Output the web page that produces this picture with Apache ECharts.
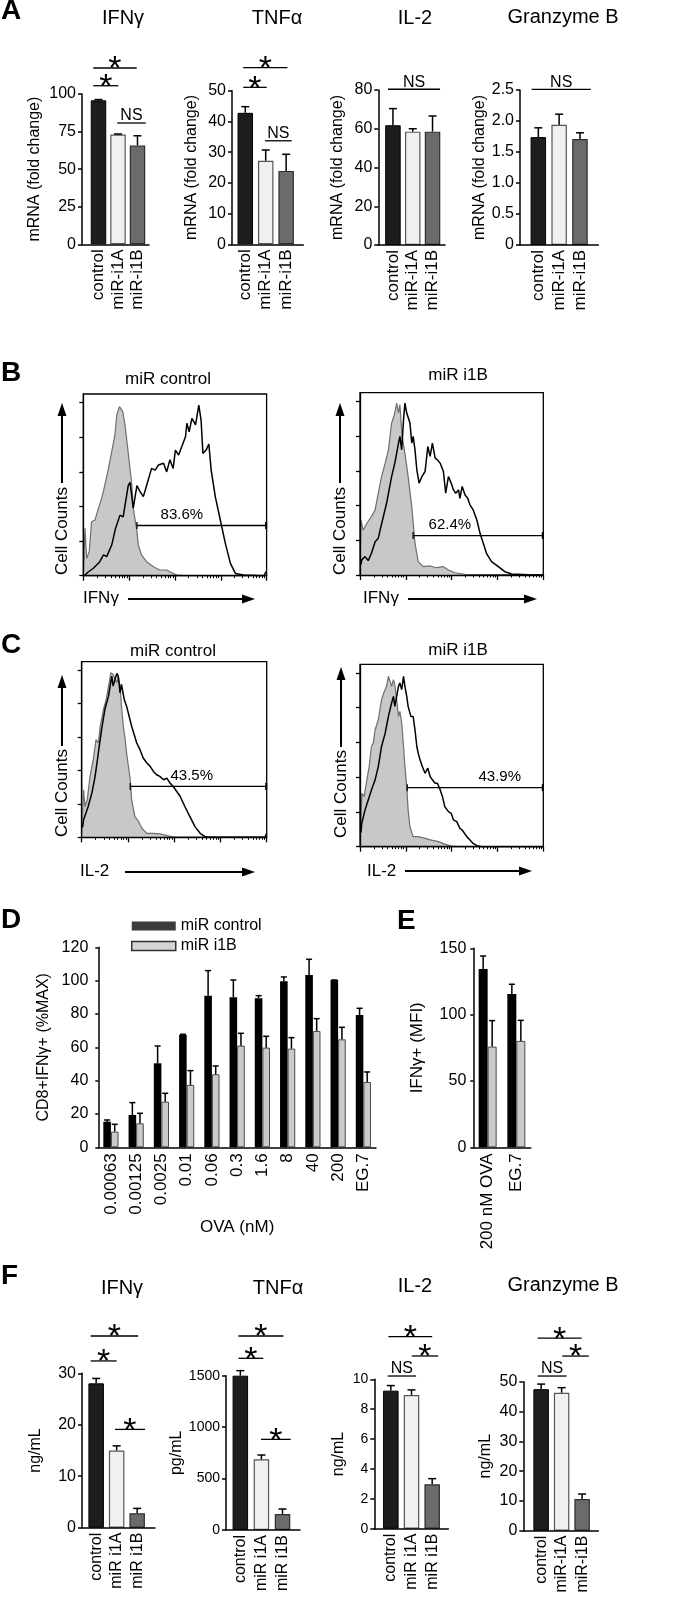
<!DOCTYPE html>
<html><head><meta charset="utf-8">
<script src="https://cdn.jsdelivr.net/npm/echarts@6/dist/echarts.min.js"></script>
<style>html,body{margin:0;padding:0;background:#fff}#c{width:689px;height:1598px}</style>
</head><body><div id="c"></div>
<script>
// ---------------- DATA ----------------
const catsA = ['control', 'miR-i1A', 'miR-i1B'];
const catsF = ['control', 'miR i1A', 'miR i1B'];
const catsFGzm = ['control', 'miR-i1A', 'miR-i1B'];

// Panel A (mRNA fold change): means and upper error
const A_IFNg = [95.8, 73.1, 65.8];   const A_IFNg_err = [0.5, 0.3, 6.4];
const A_TNFa = [42.8, 27.2, 23.9];   const A_TNFa_err = [2.0, 3.5, 5.4];
const A_IL2  = [61.8, 58.5, 58.5];   const A_IL2_err  = [8.6, 1.5, 8.1];
const A_GzmB = [1.74, 1.94, 1.71];   const A_GzmB_err = [0.15, 0.17, 0.10];
const ticksA_IFNg = [0, 25, 50, 75, 100];
const ticksA_TNFa = [0, 10, 20, 30, 40, 50];
const ticksA_IL2  = [0, 20, 40, 60, 80];
const ticksA_GzmB = [0, 0.5, 1.0, 1.5, 2.0, 2.5];
// significance brackets: [fromX, toX, y, label]
const sigA_IFNg = [[-0.27, 1.96, 117.3, '*'], [-0.27, 1.02, 105.5, '*'], [0.96, 2.42, 80.7, 'NS']];
const sigA_TNFa = [[-0.10, 2.06, 57.5, '*'], [-0.10, 1.05, 51.1, '*'], [0.97, 2.27, 33.7, 'NS']];
const sigA_IL2  = [[-0.25, 2.38, 80.4, 'NS']];
const sigA_GzmB = [[-0.32, 2.52, 2.51, 'NS']];

// Panel F (secreted protein)
const F_IFNg = [28.05, 15.0, 2.8];   const F_IFNg_err = [0.95, 0.9, 0.95];
const F_TNFa = [1500, 687, 155];     const F_TNFa_err = [49, 42, 49];
const F_IL2  = [9.24, 8.95, 2.97];   const F_IL2_err  = [0.34, 0.34, 0.38];
const F_GzmB = [47.5, 46.3, 10.6];   const F_GzmB_err = [1.7, 1.7, 1.7];
const ticksF_IFNg = [0, 10, 20, 30];
const ticksF_TNFa = [0, 500, 1000, 1500];
const ticksF_IL2  = [0, 2, 4, 6, 8, 10];
const ticksF_GzmB = [0, 10, 20, 30, 40, 50];
const sigF_IFNg = [[-0.27, 2.05, 37.25, '*'], [-0.27, 1.0, 32.4, '*'], [0.92, 2.38, 19.1, '*']];
const sigF_TNFa = [[-0.09, 2.04, 1886, '*'], [-0.09, 1.09, 1669, '*'], [0.98, 2.39, 881, '*']];
const sigF_IL2  = [[-0.12, 2.0, 12.85, '*'], [1.01, 2.29, 11.56, '*'], [-0.15, 1.22, 10.22, 'NS']];
const sigF_GzmB = [[-0.17, 1.98, 64.6, '*'], [1.03, 2.33, 58.6, '*'], [-0.17, 1.24, 51.9, 'NS']];

// Panel D
const catsD = ['0.00063', '0.00125', '0.0025', '0.01', '0.06', '0.3', '1.6', '8', '40', '200', 'EG.7'];
const D_ctrl     = [15.4, 19.4, 50.4, 67.4, 91.0, 90.0, 89.4, 99.6, 103.4, 100.4, 79.4];
const D_ctrl_err = [1.0, 7.4, 10.4, 0.4, 15.0, 10.4, 1.6, 2.6, 9.4, 0, 4.0];
const D_i1B      = [9.4, 14.4, 27.4, 37.4, 43.8, 61.0, 59.8, 59.2, 69.8, 64.8, 39.2];
const D_i1B_err  = [4.4, 6.0, 5.0, 8.6, 5.0, 7.4, 6.8, 6.6, 7.4, 7.2, 6.0];
const ticksD = [0, 20, 40, 60, 80, 100, 120];

// Panel E
const catsE = ['200 nM OVA', 'EG.7'];
const E_ctrl = [134.4, 115.6];  const E_ctrl_err = [9.8, 7.3];
const E_i1B  = [75.9, 80.2];    const E_i1B_err  = [19.6, 15.5];
const ticksE = [0, 50, 100, 150];

const seriesNames = ['miR control', 'miR i1B'];

// Panels B/C flow histograms: [log decade, % of max]
const countTicks = [0, 20, 40, 60, 80, 100];
const decadeTicks = [0, 1, 2, 3, 4];
const minorTicks = [];
for (let d = 0; d < 4; d++) for (let k = 2; k <= 9; k++) minorTicks.push(d + Math.log10(k));

const B_ctrl_iso = [[0,0],[0.03,0],[0.037,27.4],[0.073,10],[0.13,13.9],[0.18,31.2],[0.255,32.2],[0.33,38.9],[0.40,44.7],[0.47,52.4],[0.55,62],[0.62,71.7],[0.69,81.3],[0.73,92.9],[0.79,97.7],[0.82,98.7],[0.86,94.8],[0.91,87.1],[0.96,75.6],[1.01,64],[1.06,52.4],[1.09,39],[1.17,25.5],[1.20,17.8],[1.27,12],[1.38,8.1],[1.53,5.2],[1.67,3.3],[1.82,3.3],[1.89,2.3],[2.04,0.4],[2.2,0],[4,0]];
const B_ctrl_ifng = [[0.02,0],[0.10,2],[0.22,4.3],[0.36,8.1],[0.44,12],[0.51,11],[0.62,17.7],[0.70,27],[0.80,35],[0.87,34],[0.98,52],[1.02,54],[1.09,39],[1.17,52],[1.24,48.5],[1.31,45.7],[1.38,52],[1.49,62],[1.57,61],[1.64,64],[1.75,65],[1.82,60],[1.89,67],[1.96,62],[2.01,72.6],[2.08,69.7],[2.15,74.6],[2.23,80.3],[2.26,88.1],[2.31,83.2],[2.37,90.9],[2.45,87.1],[2.52,98.6],[2.57,90.0],[2.61,70.7],[2.68,72.6],[2.74,76.1],[2.79,61.1],[2.88,45.7],[2.99,32.2],[3.10,18.7],[3.21,7.1],[3.32,1.3],[3.50,0.4],[3.94,0],[3.99,2.3]];
const B_i1B_iso = [[0,0],[0.015,0],[0.02,31.7],[0.07,25.8],[0.15,29.8],[0.25,33.7],[0.33,37.5],[0.40,47.1],[0.47,56.7],[0.55,64.4],[0.62,72.1],[0.69,87.5],[0.75,92.3],[0.80,99.0],[0.84,93.3],[0.87,98.1],[0.92,79.8],[0.98,70.2],[1.05,56.7],[1.13,39.4],[1.20,18.3],[1.27,7.7],[1.38,4.8],[1.53,5.2],[1.67,4.2],[1.82,4.8],[1.93,2.9],[2.07,1.3],[2.29,0.4],[2.44,0],[4,0]];
const B_i1B_ifng = [[0.02,6],[0.04,8.7],[0.11,10.6],[0.18,8.3],[0.25,12.5],[0.33,19.2],[0.40,21.2],[0.44,26.0],[0.51,33.7],[0.58,41.3],[0.69,56.7],[0.76,64.4],[0.84,76.0],[0.87,79.8],[0.91,72.1],[0.95,89.4],[0.98,99.0],[1.02,93.3],[1.09,87.5],[1.13,76.0],[1.16,79.8],[1.20,72.1],[1.24,60.6],[1.29,52.9],[1.35,56.7],[1.42,59.6],[1.48,74.0],[1.53,68.3],[1.58,76.0],[1.64,67.3],[1.69,66.3],[1.75,64.4],[1.82,59.6],[1.87,47.1],[1.93,56.7],[1.99,52.9],[2.04,49.0],[2.09,47.1],[2.15,49.0],[2.18,44.2],[2.23,51.0],[2.29,46.2],[2.35,44.2],[2.40,40.4],[2.47,37.5],[2.55,31.7],[2.62,24.0],[2.69,18.3],[2.76,12.5],[2.87,7.7],[3.02,4.8],[3.16,1.9],[3.31,0.6],[3.67,0.2],[4.0,0]];
const C_ctrl_iso = [[0,0],[0.03,0],[0.04,28.4],[0.07,18.4],[0.12,22.4],[0.18,36.4],[0.25,46.4],[0.31,58.4],[0.36,56.4],[0.40,66.4],[0.47,76.4],[0.53,82.4],[0.58,90.4],[0.63,98.4],[0.68,97.4],[0.72,98.4],[0.76,92.4],[0.79,96.4],[0.83,90.4],[0.86,78.4],[0.90,66.4],[0.94,58.4],[0.97,50.4],[1.05,34.4],[1.08,22.4],[1.15,12.4],[1.23,9.4],[1.30,5.4],[1.35,4.0],[1.41,2.4],[1.55,2.4],[1.69,2.0],[1.84,1.0],[2.02,0],[4,0]];
const C_ctrl_il2 = [[0.02,6],[0.04,10.4],[0.09,14.4],[0.14,18.4],[0.22,26.4],[0.29,36.4],[0.36,50.4],[0.43,64.4],[0.50,76.4],[0.58,84.4],[0.65,96.4],[0.68,90.4],[0.72,94.4],[0.76,98.0],[0.79,96.4],[0.83,86.4],[0.86,91.4],[0.92,82.4],[0.97,78.4],[1.08,66.4],[1.19,56.4],[1.26,52.4],[1.33,47.4],[1.41,44.4],[1.48,42.4],[1.55,39.4],[1.62,37.4],[1.69,36.4],[1.77,34.4],[1.84,35.4],[1.91,32.4],[1.98,30.4],[2.13,24.4],[2.23,18.4],[2.34,12.4],[2.45,6.4],[2.56,2.4],[2.67,0.4],[2.77,0],[3.96,0],[4.0,2.4]];
const C_i1B_iso = [[0,0],[0.03,0],[0.04,30.8],[0.09,28.8],[0.15,38.5],[0.20,46.2],[0.25,57.7],[0.29,59.6],[0.33,67.3],[0.40,73.1],[0.47,84.6],[0.53,89.4],[0.58,92.3],[0.62,98.1],[0.65,97.1],[0.69,92.3],[0.73,96.2],[0.76,93.3],[0.80,84.6],[0.84,75.0],[0.87,77.9],[0.91,71.2],[0.95,57.7],[0.98,46.2],[1.02,34.6],[1.05,21.2],[1.09,11.5],[1.16,5.8],[1.27,5.8],[1.42,4.8],[1.56,3.8],[1.71,2.9],[1.85,1.5],[2.0,0.4],[2.15,0],[4,0]];
const C_i1B_il2 = [[0.02,8],[0.04,13.5],[0.11,21.2],[0.18,26.9],[0.25,32.7],[0.33,38.5],[0.40,46.2],[0.47,57.7],[0.55,65.4],[0.62,75.0],[0.69,82.7],[0.73,86.5],[0.76,80.8],[0.80,86.5],[0.84,92.3],[0.87,94.2],[0.91,90.4],[0.95,98.1],[0.98,92.3],[1.02,86.5],[1.05,80.8],[1.11,75.0],[1.16,75.0],[1.20,67.3],[1.24,57.7],[1.27,53.8],[1.31,50.0],[1.36,46.2],[1.42,42.3],[1.48,45.2],[1.53,40.4],[1.58,38.5],[1.64,36.5],[1.69,36.5],[1.75,32.7],[1.80,28.8],[1.85,23.1],[1.93,20.2],[1.99,19.2],[2.04,15.4],[2.11,14.4],[2.18,10.6],[2.23,9.6],[2.33,5.8],[2.40,3.8],[2.47,1.9],[2.55,0.6],[2.65,0],[4.0,0]];
// gates: [from, to, y, label, labelX]
const gateB_ctrl = [1.17, 4.0, 29, '83.6%', 2.15];
const gateB_i1B  = [1.16, 4.0, 22.7, '62.4%', 1.96];
const gateC_ctrl = [1.05, 4.0, 30.4, '43.5%', 2.38];
const gateC_i1B  = [1.03, 4.0, 34.0, '43.9%', 3.05];

// ---------------- BUILD ----------------
const FONT = '"Liberation Sans", Arial, Helvetica, sans-serif';
const grids = [], xAxes = [], yAxes = [], series = [], graphic = [];
const barStyles = [
  {color: '#1d1d1d', borderColor: '#000', borderWidth: 1},
  {color: '#f0f0f0', borderColor: '#555', borderWidth: 1.2},
  {color: '#6b6b6b', borderColor: '#2e2e2e', borderWidth: 1.2}
];
const AX = {color: '#000', width: 1.5};

function errSeries(xi, yi, data, offset, capW) {
  return {type: 'custom', xAxisIndex: xi, yAxisIndex: yi, clip: false, z: 4, silent: true, data,
    renderItem: (p, api) => {
      const x = api.value(0), y = api.value(1), e = api.value(2);
      const a = api.coord([x, y]), b = api.coord([x, y + e]);
      const cx = a[0] + offset;
      return {type: 'group', children: [
        {type: 'line', shape: {x1: cx, y1: a[1], x2: cx, y2: b[1]}, style: {stroke: '#000', lineWidth: 1.5}},
        {type: 'line', shape: {x1: cx - capW / 2, y1: b[1], x2: cx + capW / 2, y2: b[1]}, style: {stroke: '#000', lineWidth: 1.5}}
      ]};
    }};
}
function sigSeries(xi, yi, sig) {
  return {type: 'custom', xAxisIndex: xi, yAxisIndex: yi, clip: false, z: 4, silent: true,
    data: sig.map(s => [s[0], s[2], s[1]]),
    renderItem: (p, api) => {
      const s = sig[p.dataIndex];
      const a = api.coord([s[0], s[2]]), b = api.coord([s[1], s[2]]);
      const star = s[3] === '*';
      return {type: 'group', children: [
        {type: 'line', shape: {x1: a[0], y1: a[1], x2: b[0], y2: b[1]}, style: {stroke: '#000', lineWidth: 1.3}},
        {type: 'text', x: (a[0] + b[0]) / 2, y: star ? a[1] + 2 : a[1] - 7,
          style: {text: s[3], fontSize: star ? 34 : 16, fontFamily: FONT, fill: '#000', align: 'center', verticalAlign: 'middle'}}
      ]};
    }};
}
function barPanel(o) {
  const gi = grids.length, xi = xAxes.length, yi = yAxes.length;
  grids.push({left: o.left, top: o.top, width: o.width, height: o.height, containLabel: false, outerBoundsMode: 'none'});
  xAxes.push({type: 'value', gridIndex: gi, min: o.xMin, max: o.xMax, z: 10, position: 'bottom',
    axisLine: {show: true, onZero: false, lineStyle: AX}, axisTick: {show: false}, splitLine: {show: false},
    axisLabel: {customValues: o.cats.map((c, i) => i), formatter: v => o.cats[Math.round(v)], rotate: 90, margin: 5,
      fontSize: o.catFont || 16, color: '#000', fontFamily: FONT}});
  yAxes.push({type: 'value', gridIndex: gi, min: 0, max: o.ticks[o.ticks.length - 1], z: 10,
    name: o.yName, nameLocation: 'middle', nameGap: o.nameGap, nameTextStyle: {fontSize: 16, color: '#000', fontFamily: FONT},
    axisLine: {show: true, onZero: false, lineStyle: AX},
    axisTick: {show: true, customValues: o.ticks, length: 4, lineStyle: AX},
    axisLabel: {customValues: o.ticks, formatter: o.fmt || (v => String(v)), margin: 6, fontSize: o.tickFont || 16, color: '#000', fontFamily: FONT},
    splitLine: {show: false}});
  series.push({type: 'bar', xAxisIndex: xi, yAxisIndex: yi, barWidth: o.barWidth || 15.5, z: 2, silent: true,
    data: o.vals.map((v, i) => ({value: [i, v], itemStyle: barStyles[i]}))});
  series.push(errSeries(xi, yi, o.vals.map((v, i) => [i, v, o.errs[i]]), 0, 8));
  series.push(sigSeries(xi, yi, o.sig));
}
function groupPanel(o) {
  const gi = grids.length, xi = xAxes.length, yi = yAxes.length;
  grids.push({left: o.left, top: o.top, width: o.width, height: o.height, containLabel: false, outerBoundsMode: 'none'});
  xAxes.push({type: 'category', gridIndex: gi, data: o.cats, z: 10, position: 'bottom',
    name: o.xName || '', nameLocation: 'middle', nameGap: o.xNameGap || 0, nameTextStyle: {fontSize: 17, color: '#000', fontFamily: FONT},
    axisLine: {show: true, onZero: false, lineStyle: AX}, axisTick: {show: false},
    axisLabel: {interval: 0, rotate: 90, margin: 6, fontSize: 17, color: '#000', fontFamily: FONT}});
  yAxes.push({type: 'value', gridIndex: gi, min: 0, max: o.ticks[o.ticks.length - 1], z: 10,
    name: o.yName, nameLocation: 'middle', nameGap: o.nameGap, nameTextStyle: {fontSize: o.nameFont || 16, color: '#000', fontFamily: FONT},
    axisLine: {show: true, onZero: false, lineStyle: AX},
    axisTick: {show: true, customValues: o.ticks, length: 3, lineStyle: AX},
    axisLabel: {customValues: o.ticks, margin: o.labelMargin || 8, fontSize: 16, color: '#000', fontFamily: FONT},
    splitLine: {show: false}});
  series.push({type: 'bar', name: seriesNames[0], xAxisIndex: xi, yAxisIndex: yi, barWidth: o.bw, barGap: '0%', z: 2, silent: true,
    itemStyle: {color: '#000'}, data: o.a});
  series.push({type: 'bar', name: seriesNames[1], xAxisIndex: xi, yAxisIndex: yi, barWidth: o.bw, barGap: '0%', z: 2, silent: true,
    itemStyle: {color: '#cbcbcb', borderColor: '#4a4a4a', borderWidth: 1}, data: o.b});
  series.push(errSeries(xi, yi, o.a.map((v, i) => [i, v, o.aErr[i]]), -o.bw / 2, 6));
  series.push(errSeries(xi, yi, o.b.map((v, i) => [i, v, o.bErr[i]]), o.bw / 2, 6));
}
function gateSeries(xi, yi, g) {
  return {type: 'custom', xAxisIndex: xi, yAxisIndex: yi, clip: false, z: 5, silent: true, data: [[g[0], g[2]]],
    renderItem: (p, api) => {
      const a = api.coord([g[0], g[2]]), b = api.coord([g[1], g[2]]), t = api.coord([g[4], g[2]]);
      return {type: 'group', children: [
        {type: 'line', shape: {x1: a[0], y1: a[1], x2: b[0], y2: b[1]}, style: {stroke: '#000', lineWidth: 1.3}},
        {type: 'line', shape: {x1: a[0], y1: a[1] - 3.5, x2: a[0], y2: a[1] + 3.5}, style: {stroke: '#000', lineWidth: 1.3}},
        {type: 'line', shape: {x1: b[0] - 0.5, y1: b[1] - 3.5, x2: b[0] - 0.5, y2: b[1] + 3.5}, style: {stroke: '#000', lineWidth: 2}},
        {type: 'text', x: t[0], y: t[1] - 11, style: {text: g[3], fontSize: 15, fontFamily: FONT, fill: '#000', align: 'center', verticalAlign: 'middle'}}
      ]};
    }};
}
function histPanel(o) {
  const gi = grids.length, xi = xAxes.length, yi = yAxes.length;
  grids.push({left: o.left, top: o.top, width: o.width, height: o.height, show: true, borderColor: '#000', borderWidth: 1.3,
    backgroundColor: 'rgba(0,0,0,0)', containLabel: false, outerBoundsMode: 'none'});
  xAxes.push({type: 'value', gridIndex: gi, min: 0, max: 4, z: 10, position: 'bottom',
    axisLine: {show: true, onZero: false, lineStyle: {color: '#000', width: 1.3}},
    axisTick: {show: true, customValues: decadeTicks, length: 5, lineStyle: {color: '#000', width: 1.3}},
    axisLabel: {show: false}, splitLine: {show: false}});
  xAxes.push({type: 'value', gridIndex: gi, min: 0, max: 4, z: 10, position: 'bottom',
    axisLine: {show: false}, axisTick: {show: true, customValues: minorTicks, length: 2.5, lineStyle: {color: '#000', width: 1}},
    axisLabel: {show: false}, splitLine: {show: false}});
  yAxes.push({type: 'value', gridIndex: gi, min: 0, max: 105, z: 10,
    axisLine: {show: true, onZero: false, lineStyle: {color: '#000', width: 1.3}},
    axisTick: {show: true, customValues: countTicks, length: 4, lineStyle: {color: '#000', width: 1.3}},
    axisLabel: {show: false}, splitLine: {show: false}});
  series.push({type: 'line', xAxisIndex: xi, yAxisIndex: yi, data: o.iso, symbol: 'none', silent: true, z: 2,
    lineStyle: {color: '#6e6e6e', width: 1.2}, areaStyle: {color: '#c8c8c8', opacity: 1}});
  series.push({type: 'line', xAxisIndex: xi, yAxisIndex: yi, data: o.stain, symbol: 'none', silent: true, z: 3,
    lineStyle: {color: '#000', width: 1.5}});
  series.push(gateSeries(xi, yi, o.gate));
}

// Panel A
barPanel({left: 82, top: 94, width: 67, height: 150.3, xMin: -0.846, xMax: 2.59, ticks: ticksA_IFNg, cats: catsA, catFont: 17,
  vals: A_IFNg, errs: A_IFNg_err, sig: sigA_IFNg, yName: 'mRNA (fold change)', nameGap: 39});
barPanel({left: 232, top: 90.7, width: 71.3, height: 153.6, xMin: -0.65, xMax: 2.84, ticks: ticksA_TNFa, cats: catsA, catFont: 17,
  vals: A_TNFa, errs: A_TNFa_err, sig: sigA_TNFa, yName: 'mRNA (fold change)', nameGap: 32});
barPanel({left: 378.3, top: 90, width: 66.7, height: 155, xMin: -0.74, xMax: 2.63, ticks: ticksA_IL2, cats: catsA, catFont: 17,
  vals: A_IL2, errs: A_IL2_err, sig: sigA_IL2, yName: 'mRNA (fold change)', nameGap: 33});
barPanel({left: 520, top: 90, width: 78.3, height: 155, xMin: -0.88, xMax: 2.88, ticks: ticksA_GzmB, cats: catsA, catFont: 17,
  vals: A_GzmB, errs: A_GzmB_err, sig: sigA_GzmB, yName: 'mRNA (fold change)', nameGap: 31,
  fmt: v => v === 0 ? '0' : v.toFixed(1)});

// Panels B, C
histPanel({left: 83.3, top: 394, width: 183.3, height: 181.7, iso: B_ctrl_iso, stain: B_ctrl_ifng, gate: gateB_ctrl});
histPanel({left: 360, top: 392.7, width: 183.3, height: 182.3, iso: B_i1B_iso, stain: B_i1B_ifng, gate: gateB_i1B});
histPanel({left: 81.7, top: 661.7, width: 185, height: 175.6, iso: C_ctrl_iso, stain: C_ctrl_il2, gate: gateC_ctrl});
histPanel({left: 360, top: 664.3, width: 183.3, height: 182.4, iso: C_i1B_iso, stain: C_i1B_il2, gate: gateC_i1B});

// Panel D, E
groupPanel({left: 98.3, top: 947.3, width: 277.7, height: 200, cats: catsD, ticks: ticksD, a: D_ctrl, aErr: D_ctrl_err,
  b: D_i1B, bErr: D_i1B_err, bw: 7.6, yName: 'CD8+IFNγ+ (%MAX)', nameGap: 47, nameFont: 16, labelMargin: 10,
  xName: 'OVA (nM)', xNameGap: 66});
groupPanel({left: 473.3, top: 948.3, width: 57.4, height: 199, cats: catsE, ticks: ticksE, a: E_ctrl, aErr: E_ctrl_err,
  b: E_i1B, bErr: E_i1B_err, bw: 9, yName: 'IFNγ+ (MFI)', nameGap: 47, nameFont: 17, labelMargin: 7});

// Panel F
barPanel({left: 82, top: 1373.3, width: 73, height: 154.4, xMin: -0.69, xMax: 2.87, ticks: ticksF_IFNg, cats: catsF,
  vals: F_IFNg, errs: F_IFNg_err, sig: sigF_IFNg, yName: 'ng/mL', nameGap: 38, tickFont: 16});
barPanel({left: 226, top: 1375.7, width: 74, height: 154.3, xMin: -0.68, xMax: 2.83, ticks: ticksF_TNFa, cats: catsF,
  vals: F_TNFa, errs: F_TNFa_err, sig: sigF_TNFa, yName: 'pg/mL', nameGap: 37, tickFont: 14});
barPanel({left: 374.3, top: 1379.3, width: 74, height: 149.4, xMin: -0.80, xMax: 2.78, ticks: ticksF_IL2, cats: catsF,
  vals: F_IL2, errs: F_IL2_err, sig: sigF_IL2, yName: 'ng/mL', nameGap: 28, tickFont: 14});
barPanel({left: 523.3, top: 1381.7, width: 75, height: 149, xMin: -0.87, xMax: 2.79, ticks: ticksF_GzmB, cats: catsFGzm,
  vals: F_GzmB, errs: F_GzmB_err, sig: sigF_GzmB, yName: 'ng/mL', nameGap: 30, tickFont: 16});

// ---------------- TEXT / ARROWS ----------------
function txt(x, y, text, size, o = {}) {
  graphic.push({type: 'text', x, y, rotation: o.rot || 0, silent: true,
    style: {text, fontSize: size, fontFamily: FONT, fill: '#000', align: o.align || 'center', verticalAlign: 'middle',
      fontWeight: o.bold ? 'bold' : 'normal'}});
}
function vArrow(x, yBottom, yTip) {
  graphic.push({type: 'line', silent: true, shape: {x1: x, y1: yBottom, x2: x, y2: yTip + 10}, style: {stroke: '#000', lineWidth: 2}});
  graphic.push({type: 'polygon', silent: true, shape: {points: [[x, yTip], [x - 4.5, yTip + 13], [x + 4.5, yTip + 13]]}, style: {fill: '#000'}});
}
function hArrow(x0, xTip, y) {
  graphic.push({type: 'line', silent: true, shape: {x1: x0, y1: y, x2: xTip - 10, y2: y}, style: {stroke: '#000', lineWidth: 2}});
  graphic.push({type: 'polygon', silent: true, shape: {points: [[xTip, y], [xTip - 13, y - 4.5], [xTip - 13, y + 4.5]]}, style: {fill: '#000'}});
}
// panel letters
txt(1, 11, 'A', 28, {align: 'left', bold: true});
txt(1, 373, 'B', 28, {align: 'left', bold: true});
txt(1, 645, 'C', 28, {align: 'left', bold: true});
txt(1, 920, 'D', 28, {align: 'left', bold: true});
txt(397, 921, 'E', 28, {align: 'left', bold: true});
txt(1, 1276, 'F', 28, {align: 'left', bold: true});
// titles A and F
txt(123, 18, 'IFNγ', 20); txt(277, 18, 'TNFα', 20); txt(415, 18, 'IL-2', 20); txt(563, 17, 'Granzyme B', 20);
txt(122, 1288, 'IFNγ', 20); txt(278, 1288, 'TNFα', 20); txt(415, 1286, 'IL-2', 20); txt(563, 1285, 'Granzyme B', 20);
// flow titles
txt(168, 379, 'miR control', 17); txt(458, 375, 'miR i1B', 17);
txt(173, 651, 'miR control', 17); txt(458, 650, 'miR i1B', 17);
// cell counts arrows
const R90 = Math.PI / 2;
txt(62, 531, 'Cell Counts', 17, {rot: R90}); vArrow(62, 483, 403);
txt(340, 531, 'Cell Counts', 17, {rot: R90}); vArrow(340, 483, 403);
txt(62, 793, 'Cell Counts', 17, {rot: R90}); vArrow(62, 746, 675);
txt(341, 794, 'Cell Counts', 17, {rot: R90}); vArrow(341, 747, 667);
// x arrows
txt(83, 598, 'IFNγ', 17, {align: 'left'}); hArrow(128, 255, 599);
txt(363, 598, 'IFNγ', 17, {align: 'left'}); hArrow(408, 537, 599);
txt(80, 871, 'IL-2', 17, {align: 'left'}); hArrow(125, 255, 872);
txt(367, 871, 'IL-2', 17, {align: 'left'}); hArrow(405, 532, 871);

const chart = echarts.init(document.getElementById('c'), null, {renderer: 'canvas', width: 689, height: 1598});
chart.setOption({
  animation: false,
  backgroundColor: '#fff',
  textStyle: {fontFamily: FONT, color: '#000'},
  legend: {show: true, selectedMode: false, orient: 'vertical', left: 126, top: 913, itemWidth: 44, itemHeight: 9, itemGap: 4,
    icon: 'rect', textStyle: {fontSize: 16, color: '#000', fontFamily: FONT, lineHeight: 16},
    data: [{name: seriesNames[0], itemStyle: {color: '#3c3c3c', borderWidth: 0}},
           {name: seriesNames[1], itemStyle: {color: '#d4d4d4', borderColor: '#333', borderWidth: 1.5}}]},
  grid: grids, xAxis: xAxes, yAxis: yAxes, series, graphic
});
</script></body></html>
